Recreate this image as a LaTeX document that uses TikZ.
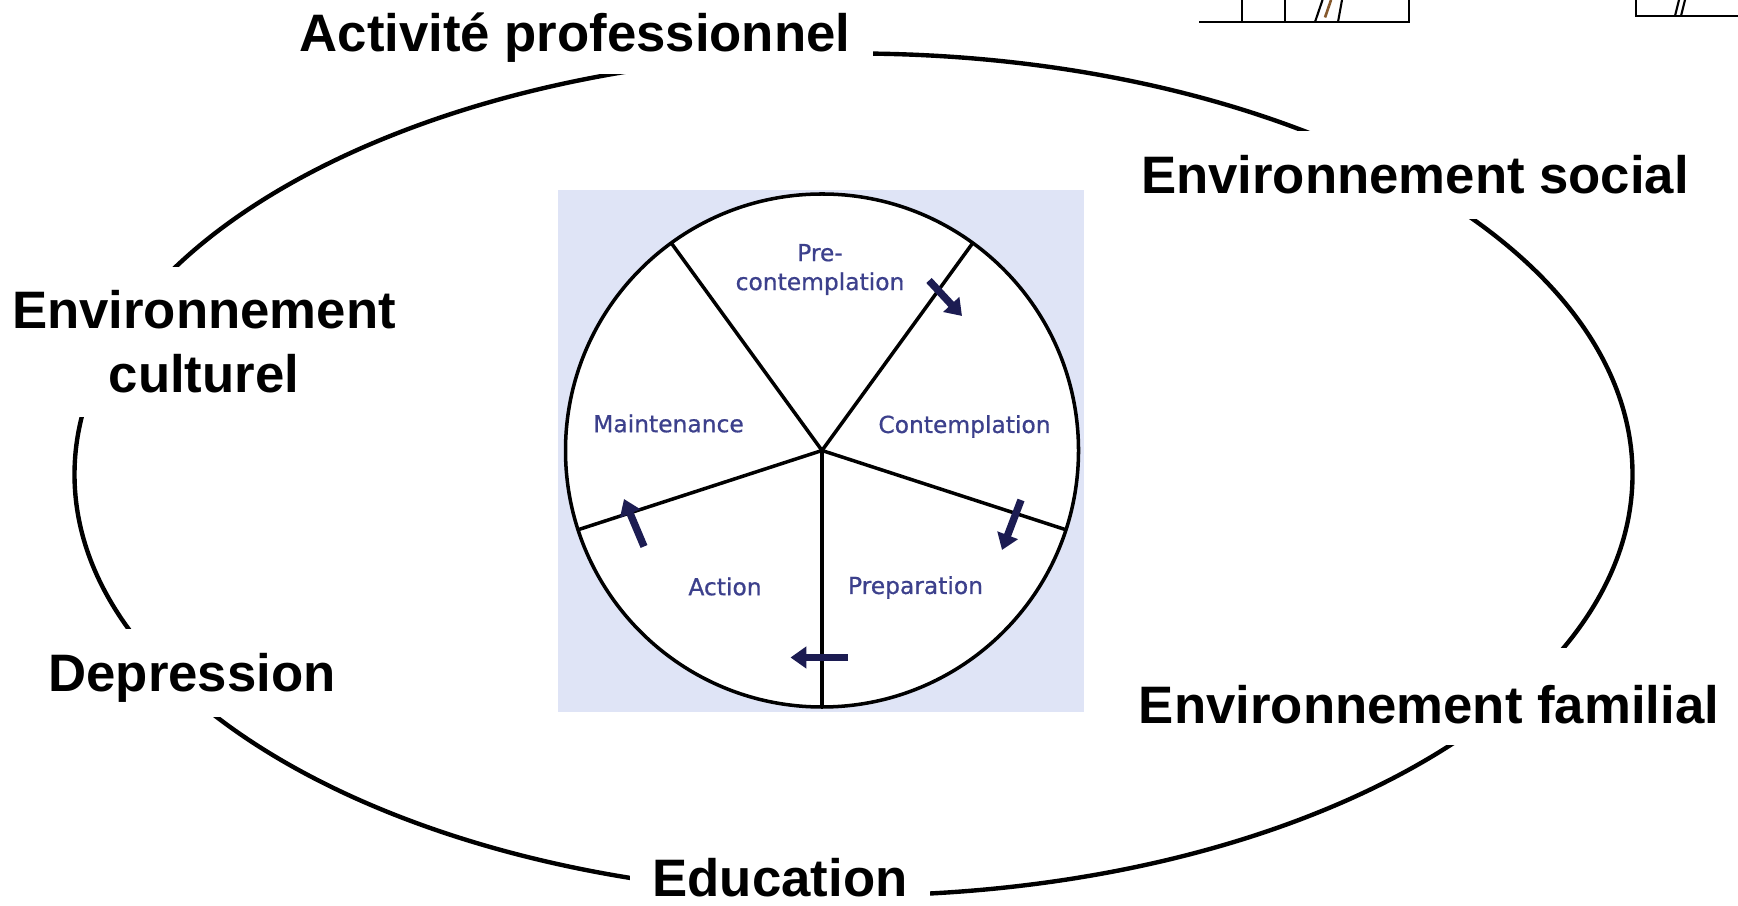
\documentclass[tikz,border=0pt]{standalone}
\usepackage{fontspec}
\setmainfont{Liberation Sans}
\newfontfamily\stagefont[FakeBold=0.7]{DejaVu Sans}
\usepackage{xcolor}
\usetikzlibrary{calc,arrows.meta}
\definecolor{stageblue}{RGB}{60, 64, 140}
\definecolor{arrownavy}{RGB}{28, 28, 82}
\definecolor{wheelbg}{RGB}{223, 228, 246}

\begin{document}
\begin{tikzpicture}[
    factor/.style={font=\bfseries\fontsize{30}{36.4}\selectfont, fill=white, inner xsep=0.46cm, inner ysep=0pt},
    factorline/.style={factor, text height=21.5pt, text depth=0pt, minimum height=1.76cm},
    stage/.style={font=\stagefont\fontsize{13.3}{16.5}\selectfont, text=stageblue, align=center},
    cyclearrow/.style={-{Triangle[length=9pt, width=12pt]}, line width=4.2pt, arrownavy}
]
    \useasboundingbox (0,0) rectangle (34.76,18.10);

    % Outer ellipse, the labels below cover it with white
    \draw[line width=2.5pt] (17.07,8.61) ellipse (15.58cm and 8.42cm);

    % Factors around the ellipse
    \node[factorline, minimum height=1.64cm] (activite) at (11.50,17.44) {Activité professionnel};
    \node[factorline] (social) at (28.30,14.60) {Environnement social};
    \node[factor, align=center, minimum height=3cm] (culturel) at (4.08,11.26) {Environnement\\culturel};
    \node[factorline] (depression) at (3.84,4.64) {Depression};
    \node[factorline, text height=30.2pt, minimum height=1.94cm] (familial) at (28.58,4.17) {Environnement familial};
    \node[factorline, minimum height=1.0cm] (education) at (15.60,0.54) {Education};

    % Bits of sketches cut off at the top edge
    \draw[line width=1.2pt] (23.98,17.66) -- (28.18,17.66) -- (28.18,18.10);
    \draw[line width=1.2pt] (24.84,17.66) -- (24.84,18.10);
    \draw[line width=1.2pt] (25.70,17.66) -- (25.70,18.10);
    \draw[line width=1.2pt] (26.30,17.66) -- (26.45,18.10);
    \draw[line width=1.2pt] (26.76,17.66) -- (26.84,18.10);
    \draw[line width=1.5pt, brown!70!black] (26.50,17.75) -- (26.62,18.10);
    \draw[line width=1.2pt] (32.72,18.10) -- (32.72,17.78) -- (34.76,17.78);
    \draw[line width=1.2pt] (33.50,17.78) -- (33.58,18.10);
    \draw[line width=1.2pt] (33.62,17.78) -- (33.70,18.10);

    % Wheel of change on its panel
    \fill[wheelbg] (11.15,3.85) rectangle (21.68,14.29);
    \coordinate (hub) at (16.44,9.09);
    \draw[line width=2pt, fill=white] (hub) circle (5.13cm);
    \draw[line width=2pt] (hub) -- +(54:5.13);
    \draw[line width=2pt] (hub) -- +(126:5.13);
    \draw[line width=2pt] (hub) -- +(198:5.13);
    \draw[line width=2pt] (hub) -- +(270:5.13);
    \draw[line width=2pt] (hub) -- +(-18:5.13);

    % Stages
    \node[stage] (pre) at (16.40,12.71) {Pre-\\contemplation};
    \node[stage] (contemplation) at (19.29,9.57) {Contemplation};
    \node[stage] (preparation) at (18.31,6.35) {Preparation};
    \node[stage] (action) at (14.50,6.37) {Action};
    \node[stage] (maintenance) at (13.37,9.63) {Maintenance};

    % Clockwise arrows across the spokes
    \draw[cyclearrow] (18.58,12.49) -- (19.24,11.78);
    \draw[cyclearrow] (20.42,8.10) -- (20.04,7.10);
    \draw[cyclearrow] (16.96,4.95) -- (15.81,4.95);
    \draw[cyclearrow] (12.88,7.17) -- (12.48,8.12);
\end{tikzpicture}
\end{document}
